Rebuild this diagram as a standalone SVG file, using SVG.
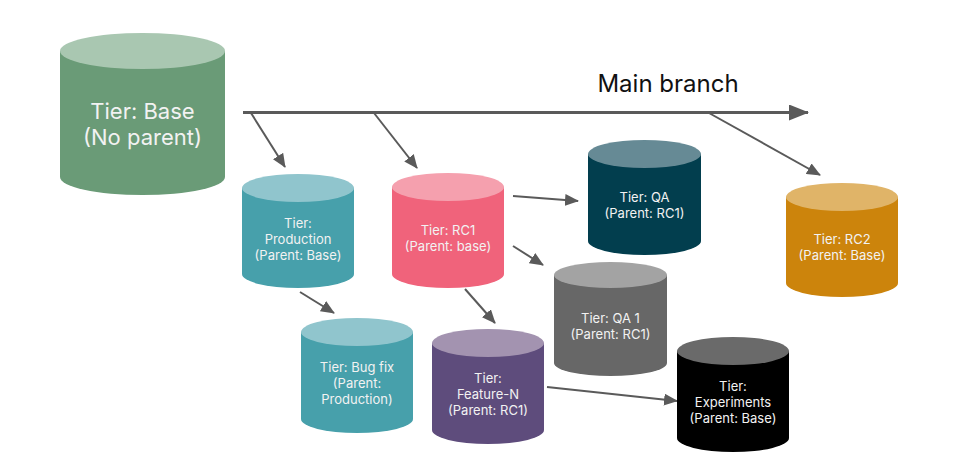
<svg xmlns="http://www.w3.org/2000/svg" width="960" height="472" viewBox="0 0 960 472">
<defs>
<marker id="ah" markerUnits="userSpaceOnUse" markerWidth="14" markerHeight="12" refX="13" refY="6" orient="auto">
<path d="M0,0 L14,6 L0,12 Z" fill="#5a5a5a"/>
</marker>
<marker id="ahBig" markerUnits="userSpaceOnUse" markerWidth="20" markerHeight="16" refX="19" refY="8" orient="auto">
<path d="M0,0 L20,8 L0,16 Z" fill="#5a5a5a"/>
</marker>
</defs>
<style>
.t{font-family:Inter,"Noto Sans","Liberation Sans",sans-serif;fill:#f2f2f2;text-anchor:middle;dominant-baseline:central;font-size:13px}
.big{font-size:22px}
.lbl{font-family:Inter,"Noto Sans","Liberation Sans",sans-serif;fill:#111;font-size:24px;text-anchor:middle}
.c{stroke:#5a5a5a;stroke-width:2;fill:none;marker-end:url(#ah)}
</style>
<rect width="960" height="472" fill="#fff"/>
<g id="connectors">
<line x1="243" y1="112.5" x2="808" y2="112.5" stroke="#5a5a5a" stroke-width="3" marker-end="url(#ahBig)"/>
<line class="c" x1="251" y1="113" x2="285" y2="167"/>
<line class="c" x1="374" y1="113" x2="417" y2="168"/>
<line class="c" x1="709" y1="113" x2="820" y2="175"/>
<line class="c" x1="513" y1="196" x2="578" y2="201"/>
<line class="c" x1="513" y1="246" x2="543" y2="265"/>
<line class="c" x1="300" y1="292" x2="334" y2="313"/>
<line class="c" x1="465" y1="289" x2="495" y2="323"/>
<line class="c" x1="547" y1="387" x2="677" y2="401"/>
</g>
<text id="main-branch-label" class="lbl" x="668" y="92">Main branch</text>
<g id="base">
<path d="M60,51 L60,177 A82.5,18 0 0 0 225,177 L225,51 Z" fill="#6a9b77"/>
<ellipse cx="142.5" cy="51" rx="82.5" ry="18" fill="#a9c7b1"/>
<text class="t big" x="142.5" y="111">Tier: Base</text>
<text class="t big" x="142.5" y="137">(No parent)</text>
</g>
<g id="production">
<path d="M242,188 L242,274 A56,14 0 0 0 354,274 L354,188 Z" fill="#47a0ab"/>
<ellipse cx="298" cy="188" rx="56" ry="14" fill="#90c5cd"/>
<text class="t" x="298" y="223">Tier:</text>
<text class="t" x="298" y="239">Production</text>
<text class="t" x="298" y="255">(Parent: Base)</text>
</g>
<g id="rc1">
<path d="M392,187 L392,274 A56,14 0 0 0 504,274 L504,187 Z" fill="#f0637b"/>
<ellipse cx="448" cy="187" rx="56" ry="14" fill="#f5a0ae"/>
<text class="t" x="448" y="230">Tier: RC1</text>
<text class="t" x="448" y="246">(Parent: base)</text>
</g>
<g id="qa">
<path d="M588,154 L588,241 A56.5,14 0 0 0 701,241 L701,154 Z" fill="#023e4e"/>
<ellipse cx="644.5" cy="154" rx="56.5" ry="14" fill="#668a95"/>
<text class="t" x="644.5" y="197">Tier: QA</text>
<text class="t" x="644.5" y="213">(Parent: RC1)</text>
</g>
<g id="rc2">
<path d="M786,197 L786,283 A56,14 0 0 0 898,283 L898,197 Z" fill="#cc840c"/>
<ellipse cx="842" cy="197" rx="56" ry="14" fill="#e0b468"/>
<text class="t" x="842" y="239">Tier: RC2</text>
<text class="t" x="842" y="255">(Parent: Base)</text>
</g>
<g id="bugfix">
<path d="M301,332 L301,419 A56,14 0 0 0 413,419 L413,332 Z" fill="#47a0ab"/>
<ellipse cx="357" cy="332" rx="56" ry="14" fill="#90c5cd"/>
<text class="t" x="357" y="367">Tier: Bug fix</text>
<text class="t" x="357" y="383">(Parent:</text>
<text class="t" x="357" y="399">Production)</text>
</g>
<g id="feature-n">
<path d="M432,343 L432,430 A56,14 0 0 0 544,430 L544,343 Z" fill="#5e4c7c"/>
<ellipse cx="488" cy="343" rx="56" ry="14" fill="#a393b0"/>
<text class="t" x="488" y="378">Tier:</text>
<text class="t" x="488" y="394">Feature-N</text>
<text class="t" x="488" y="410">(Parent: RC1)</text>
</g>
<g id="qa1">
<path d="M554,275 L554,363 A56.5,13 0 0 0 667,363 L667,275 Z" fill="#676767"/>
<ellipse cx="610.5" cy="275" rx="56.5" ry="13" fill="#a3a3a3"/>
<text class="t" x="610.5" y="318">Tier: QA 1</text>
<text class="t" x="610.5" y="334">(Parent: RC1)</text>
</g>
<g id="experiments">
<path d="M677,351 L677,438 A56,14 0 0 0 789,438 L789,351 Z" fill="#000"/>
<ellipse cx="733" cy="351" rx="56" ry="14" fill="#6a6a6a"/>
<text class="t" x="733" y="386">Tier:</text>
<text class="t" x="733" y="402">Experiments</text>
<text class="t" x="733" y="418">(Parent: Base)</text>
</g>
</svg>
